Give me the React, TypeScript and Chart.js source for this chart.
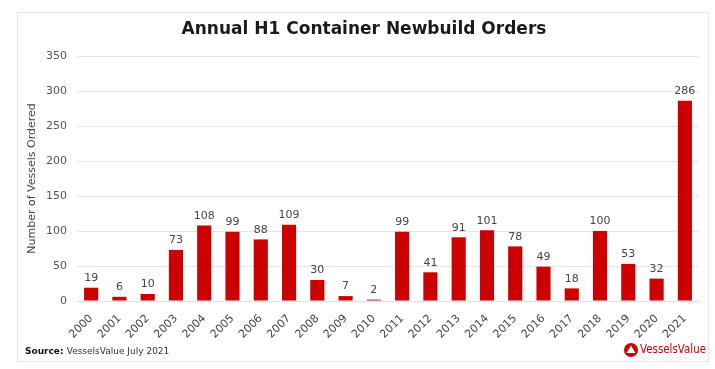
import React, { useEffect, useRef } from "react";
import { Chart, registerables } from "chart.js";

Chart.register(...registerables);

const years = ["2000","2001","2002","2003","2004","2005","2006","2007","2008","2009","2010","2011","2012","2013","2014","2015","2016","2017","2018","2019","2020","2021"];
const orders = [19,6,10,73,108,99,88,109,30,7,2,99,41,91,101,78,49,18,100,53,32,286];
const yTicks = [0,50,100,150,200,250,300,350];

const FONT = "'DejaVu Sans', Verdana, sans-serif";
const RED = "#cc0000";

const decor = {
  id: "decor",
  beforeDraw(chart: any) {
    const ctx = chart.ctx;
    ctx.save();
    ctx.fillStyle = "#ffffff";
    ctx.fillRect(0, 0, chart.width, chart.height);
    ctx.strokeStyle = "#e6e6e6";
    ctx.lineWidth = 1;
    ctx.strokeRect(17.5, 12.5, 691, 349);
    ctx.restore();
  },
  afterDraw(chart: any) {
    const ctx = chart.ctx;
    ctx.save();
    // title
    ctx.fillStyle = "#1a1a1a";
    ctx.font = `bold 17px ${FONT}`;
    ctx.textAlign = "center";
    ctx.textBaseline = "middle";
    ctx.fillText("Annual H1 Container Newbuild Orders", 364, 30);
    // source
    ctx.textAlign = "left";
    ctx.font = `bold 9px ${FONT}`;
    ctx.fillStyle = "#111";
    ctx.fillText("Source:", 25, 352);
    const w = ctx.measureText("Source: ").width;
    ctx.font = `9px ${FONT}`;
    ctx.fillStyle = "#333";
    ctx.fillText("VesselsValue July 2021", 25 + w, 352);
    // logo
    ctx.fillStyle = RED;
    ctx.beginPath();
    ctx.arc(631, 350, 7, 0, Math.PI * 2);
    ctx.fill();
    ctx.fillStyle = "#fff";
    ctx.beginPath();
    ctx.moveTo(631, 345.5);
    ctx.lineTo(635.5, 353);
    ctx.lineTo(626.5, 353);
    ctx.closePath();
    ctx.fill();
    ctx.fillStyle = RED;
    ctx.font = `12px ${FONT}`;
    const lw = ctx.measureText("VesselsValue").width;
    ctx.translate(640, 350);
    ctx.scale(66 / lw, 1);
    ctx.textAlign = "left";
    ctx.fillText("VesselsValue", 0, 0);
    ctx.restore();
  },
  afterDatasetsDraw(chart: any) {
    const ctx = chart.ctx;
    const meta = chart.getDatasetMeta(0);
    ctx.save();
    ctx.fillStyle = "#444";
    ctx.font = `11px ${FONT}`;
    ctx.textAlign = "center";
    ctx.textBaseline = "bottom";
    meta.data.forEach((bar: any, i: number) => {
      ctx.fillText(String(orders[i]), bar.x, bar.y - 4);
    });
    ctx.restore();
  },
};

export default function App() {
  const ref = useRef<HTMLCanvasElement>(null);
  useEffect(() => {
    document.body.style.margin = "0";
    const chart = new Chart(ref.current!, {
      type: "bar",
      data: {
        labels: years,
        datasets: [
          {
            data: orders,
            backgroundColor: RED,
            categoryPercentage: 1,
            barPercentage: 0.5,
          },
        ],
      },
      options: {
        animation: false,
        responsive: false,
        maintainAspectRatio: false,
        layout: { padding: { left: 13, right: 16, top: 56, bottom: 0 } },
        plugins: { legend: { display: false }, tooltip: { enabled: false }, title: { display: false } },
        scales: {
          x: {
            grid: { display: false },
            border: { display: true, color: "#e0e0e0" },
            ticks: {
              minRotation: 45,
              maxRotation: 45,
              color: "#444",
              font: { family: FONT, size: 11 },
              padding: 3,
            },
            afterFit(scale: any) {
              scale.height = 68;
            },
          },
          y: {
            min: 0,
            max: 350,
            afterBuildTicks(scale: any) {
              scale.ticks = yTicks.map((v) => ({ value: v }));
            },
            grid: { color: "#e6e6e6", drawTicks: false },
            border: { display: false },
            ticks: { color: "#555", font: { family: FONT, size: 11 }, padding: 10 },
            title: {
              display: true,
              text: "Number of Vessels Ordered",
              color: "#444",
              font: { family: FONT, size: 11 },
              padding: { top: 13, bottom: 0 },
            },
            afterFit(scale: any) {
              scale.width = 64;
            },
          },
        },
      },
      plugins: [decor],
    });
    return () => chart.destroy();
  }, []);
  return (
    <div style={{ position: "fixed", left: 0, top: 0, width: 715, height: 369, background: "#fff" }}>
      <canvas ref={ref} width={715} height={369} style={{ width: 715, height: 369, display: "block" }} />
    </div>
  );
}
